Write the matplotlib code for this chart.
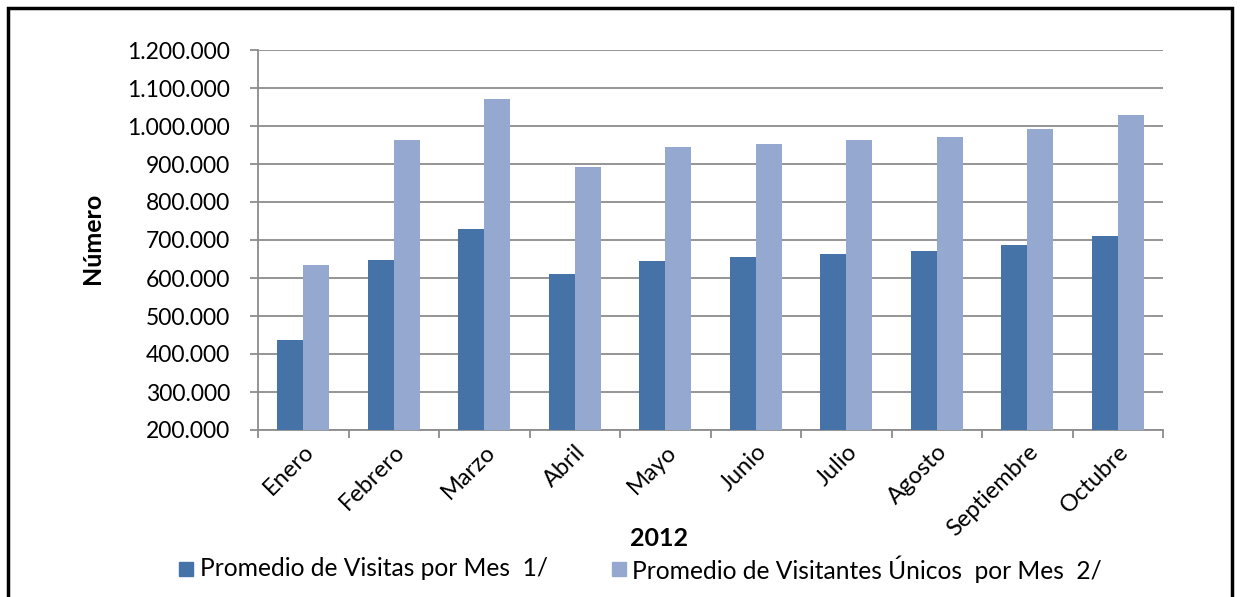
import matplotlib
matplotlib.use("Agg")
import matplotlib.pyplot as plt
import numpy as np
from matplotlib.ticker import FuncFormatter
from matplotlib.patches import Rectangle

months = ["Enero", "Febrero", "Marzo", "Abril", "Mayo", "Junio", "Julio",
          "Agosto", "Septiembre", "Octubre"]
visitas = [436000, 647000, 729000, 610000, 645000, 655000, 663000, 671000, 687000, 711000]
unicos = [634000, 964000, 1072000, 892000, 945000, 953000, 964000, 972000, 993000, 1030000]
series_names = ["Promedio de Visitas por Mes  1/", "Promedio de Visitantes Únicos  por Mes  2/"]

plt.rcParams['font.family'] = ['Lato', 'DejaVu Sans']

W, H = 1240, 597
fig = plt.figure(figsize=(W / 100, H / 100), dpi=100)
ax = fig.add_axes([258 / W, 1 - 430 / H, (1163 - 258) / W, (430 - 50) / H])

x = np.arange(len(months))
bw = 0.287
c1, c2 = "#4572A7", "#95A9D0"
ax.bar(x - bw / 2, np.array(visitas), bw, color=c1, zorder=3, label=series_names[0])
ax.bar(x + bw / 2, np.array(unicos), bw, color=c2, zorder=3, label=series_names[1])

ax.set_ylim(200000, 1200000)
ax.set_xlim(-0.5, len(months) - 0.5)
ax.set_yticks(np.arange(200000, 1200001, 100000))
ax.yaxis.set_major_formatter(FuncFormatter(lambda v, p: f"{int(v):,}".replace(",", ".")))
ax.grid(axis='y', color="#8c8c8c", linewidth=1.3, zorder=0)

ax.set_xticks(x)
ax.set_xticklabels(months, rotation=45, ha='right', rotation_mode='anchor', fontsize=17)
ax.tick_params(axis='x', length=0, pad=8)
ax.set_xticks(np.arange(-0.5, len(months)), minor=True)
ax.tick_params(axis='x', which='minor', length=6, color="#8c8c8c", width=1.3)
ax.tick_params(axis='y', length=6, color="#8c8c8c", width=1.3, labelsize=16.5, pad=14)

for s in ['top', 'right']:
    ax.spines[s].set_visible(False)
for s in ['left', 'bottom']:
    ax.spines[s].set_color("#8c8c8c")
    ax.spines[s].set_linewidth(1.3)

fig.text(92 / W, 1 - 238 / H, "Número", rotation=90, ha='center', va='center',
         fontsize=18, fontweight='bold')
fig.text(659 / W, 1 - 538 / H, "2012", ha='center', va='center', fontsize=18, fontweight='bold')

# legend
for (sx, tx, col, name) in [(179, 200, c1, series_names[0]), (612, 632, c2, series_names[1])]:
    fig.patches.append(Rectangle((sx / W, 1 - 576 / H), 14 / W, 14 / H, color=col,
                                 transform=fig.transFigure, figure=fig))
    fig.text(tx / W, 1 - 569 / H, name, ha='left', va='center', fontsize=17.7)

# outer border
fig.patches.append(Rectangle((8 / W, -0.01), (1232 - 8) / W, 1 - 8 / H + 0.01, fill=False,
                             edgecolor='black', linewidth=2.5, transform=fig.transFigure, figure=fig))

fig.savefig("out.png", dpi=100)
